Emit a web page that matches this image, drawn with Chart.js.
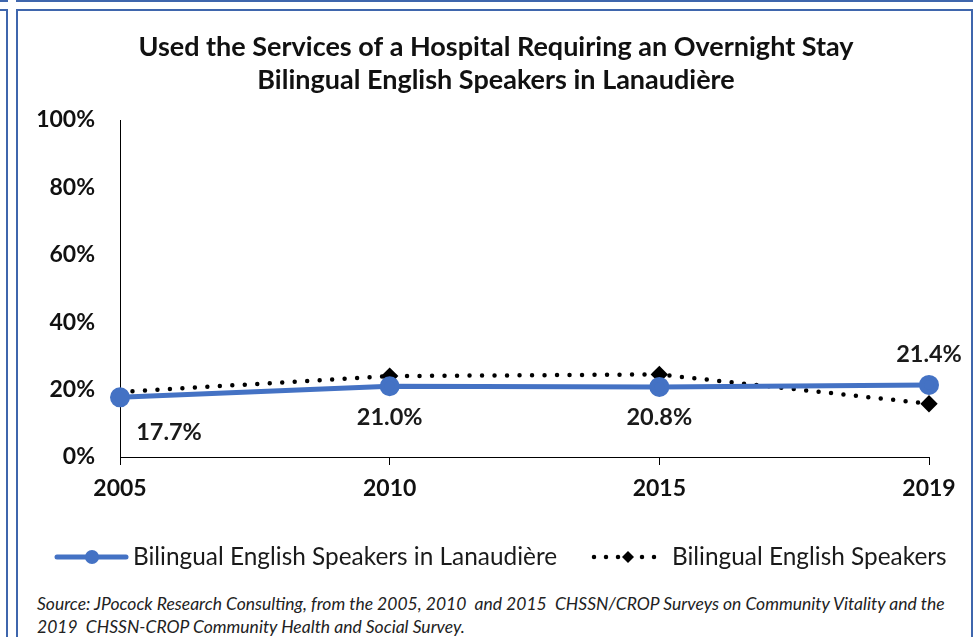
<!DOCTYPE html>
<html lang="en">
<head>
  <meta charset="UTF-8">
  <title>Hospital overnight stay</title>
  <script src="https://cdn.jsdelivr.net/npm/chart.js@4.4.1/dist/chart.umd.min.js"></script>
  <style>
    body { margin: 0; background: #fff; width: 979px; height: 637px; overflow: hidden; position: relative; font-family: Lato, sans-serif; }
    .box { position: absolute; border: 2px solid #3f66ad; box-sizing: border-box; }
    #chartWrap { position: absolute; left: 18px; top: 11px; width: 953px; height: 577px; }
    #source { position: absolute; left: 37px; top: 592px; font-style: italic; font-size: 17.5px; line-height: 23px; color: #222; white-space: pre; }
  </style>
</head>
<body>
  <div class="box" style="left:16px; top:-20px; width:957px; height:22px;"></div>
  <div class="box" style="left:-20px; top:-20px; width:28px; height:22px;"></div>
  <div class="box" style="left:-20px; top:9px; width:28px; height:700px;"></div>
  <div class="box" style="left:16px; top:9px; width:957px; height:700px;"></div>

  <div id="chartWrap"><canvas id="chart" width="953" height="577"></canvas></div>
  <div id="source">Source: JPocock Research Consulting, from the 2005, 2010  and 2015  CHSSN/CROP Surveys on Community Vitality and the
2019  CHSSN-CROP Community Health and Social Survey.</div>

<script>
const years = ['2005', '2010', '2015', '2019'];
const lanaudiere = [17.7, 21.0, 20.8, 21.4];
const bilingualAll = [19.3, 24.0, 24.5, 15.8];
const seriesNames = ['Bilingual English Speakers in Lanaudière', 'Bilingual English Speakers'];
const titleLines = ['Used the Services of a Hospital Requiring an Overnight Stay', 'Bilingual English Speakers in Lanaudière'];

const BLUE = '#4472C4';

// value labels for the blue series
const valueLabels = {
  id: 'valueLabels',
  afterDatasetsDraw(chart, args, opts) {
    const ctx = chart.ctx;
    const meta = chart.getDatasetMeta(0);
    ctx.save();
    ctx.font = 'bold 23.5px Lato';
    ctx.fillStyle = '#1a1a1a';
    ctx.textAlign = 'center';
    ctx.textBaseline = 'middle';
    meta.data.forEach((pt, i) => {
      const off = opts.offsets[i];
      ctx.fillText(lanaudiere[i].toFixed(1) + '%', pt.x + off[0], pt.y + off[1]);
    });
    ctx.restore();
  }
};

// legend drawn under the axis, excel style
const bottomLegend = {
  id: 'bottomLegend',
  afterDraw(chart) {
    const ctx = chart.ctx;
    const y = 546;
    ctx.save();

    // solid blue line with circle
    ctx.strokeStyle = BLUE;
    ctx.lineWidth = 5;
    ctx.lineCap = 'round';
    ctx.beginPath();
    ctx.moveTo(39, y);
    ctx.lineTo(108, y);
    ctx.stroke();
    ctx.fillStyle = BLUE;
    ctx.beginPath();
    ctx.arc(74, y, 7, 0, Math.PI * 2);
    ctx.fill();

    // dotted black line with diamond
    ctx.strokeStyle = '#000';
    ctx.lineWidth = 4.5;
    ctx.setLineDash([0, 12]);
    ctx.beginPath();
    ctx.moveTo(576, y);
    ctx.lineTo(646, y);
    ctx.stroke();
    ctx.setLineDash([]);
    ctx.fillStyle = '#000';
    ctx.beginPath();
    ctx.moveTo(610, y - 6);
    ctx.lineTo(616, y);
    ctx.lineTo(610, y + 6);
    ctx.lineTo(604, y);
    ctx.closePath();
    ctx.fill();

    ctx.font = '24.4px Lato';
    ctx.fillStyle = '#1a1a1a';
    ctx.textBaseline = 'middle';
    ctx.fillText(seriesNames[0], 115, y);
    ctx.fillText(seriesNames[1], 654, y);
    ctx.restore();
  }
};

const chart = new Chart(document.getElementById('chart'), {
  type: 'line',
  data: {
    labels: years,
    datasets: [
      {
        label: seriesNames[0],
        data: lanaudiere,
        borderColor: BLUE,
        backgroundColor: BLUE,
        borderWidth: 5,
        pointRadius: 7.5,
        pointStyle: 'circle',
        tension: 0,
        clip: false,
        order: 1
      },
      {
        label: seriesNames[1],
        data: bilingualAll,
        borderColor: '#000',
        backgroundColor: '#000',
        borderWidth: 4.5,
        borderDash: [0, 12.5],
        borderCapStyle: 'round',
        // first diamond sits behind the blue marker
        pointRadius: [0, 5.5, 5.5, 5.5],
        pointStyle: 'rectRot',
        tension: 0,
        clip: false,
        order: 2
      }
    ]
  },
  options: {
    responsive: false,
    devicePixelRatio: 1,
    animation: false,
    // uneven side padding shifts the title a little right of the canvas centre
    layout: { padding: { left: 15, right: 12, top: 0, bottom: 71 } },
    plugins: {
      legend: { display: false },
      tooltip: { enabled: false },
      title: {
        display: true,
        text: titleLines,
        color: '#111',
        font: { family: 'Lato', weight: 'bold', size: 27, lineHeight: '33px' },
        padding: { top: 19.5, bottom: 23.5 }
      },
      valueLabels: { offsets: [[49, 35], [0, 31], [0, 31], [0, -30]] }
    },
    scales: {
      x: {
        offset: false,
        grid: { display: true, drawOnChartArea: false, drawTicks: true, tickLength: 8, color: '#000', offset: false },
        border: { display: true, color: '#000', width: 1 },
        ticks: { color: '#111', padding: 10, font: { family: 'Lato', weight: 'bold', size: 23 }, maxRotation: 0 },
        afterFit(scale) { scale.height = 60; }
      },
      y: {
        min: 0,
        max: 100,
        grid: { display: false, drawTicks: false },
        border: { display: true, color: '#000', width: 1 },
        ticks: {
          stepSize: 20,
          padding: 25,
          color: '#111',
          font: { family: 'Lato', weight: 'bold', size: 23 },
          callback: v => v + '%'
        },
        afterFit(scale) { scale.width = 87; }
      },
      // empty right-hand axis, only reserves the white margin right of 2019
      yRight: {
        position: 'right',
        display: true,
        min: 0,
        max: 100,
        grid: { display: false, drawTicks: false },
        border: { display: false },
        ticks: { display: false },
        afterFit(scale) { scale.width = 30; }
      }
    }
  },
  plugins: [valueLabels, bottomLegend]
});
</script>
</body>
</html>
